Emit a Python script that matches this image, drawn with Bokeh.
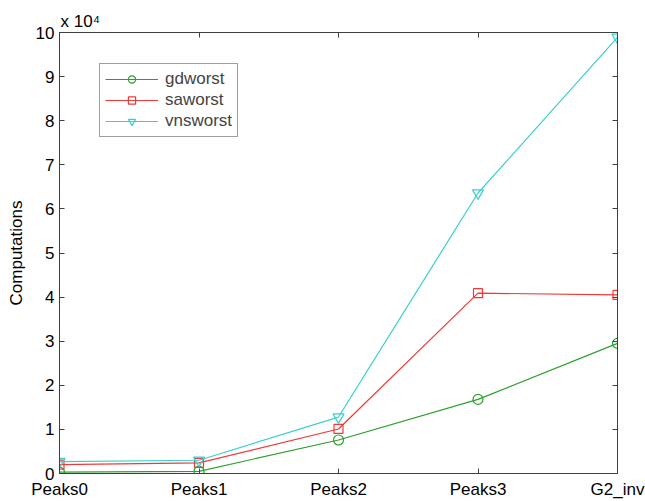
from bokeh.plotting import figure
from bokeh.models import Range1d, FixedTicker, LinearAxis, Legend
from bokeh.embed import file_html
from bokeh.resources import INLINE

# Worst-case number of computations per test function
categories = ["Peaks0", "Peaks1", "Peaks2", "Peaks3", "G2_inv"]
gdworst = [300, 500, 7600, 16800, 29500]
saworst = [2000, 2400, 10100, 40900, 40500]
vnsworst = [2700, 3000, 12800, 63600, 98900]
y_ticks = [0, 10000, 20000, 30000, 40000, 50000, 60000, 70000, 80000, 90000, 100000]
y_tick_labels = ["0", "1", "2", "3", "4", "5", "6", "7", "8", "9", "10"]

FONT = "Liberation Sans"
FS = "17px"
AX = "#404040"

xs = list(range(len(categories)))

p = figure(frame_width=558, frame_height=441,
           min_border_left=59, min_border_right=28,
           min_border_top=32, min_border_bottom=28,
           x_range=Range1d(0, len(categories) - 1),
           y_range=Range1d(0, 100000),
           output_backend="svg", toolbar_location=None,
           background_fill_color="white", border_fill_color="white")
p.grid.visible = False
p.outline_line_color = AX
p.outline_line_width = 1

# exponent note above the y axis
p.title.text = "x 10\u2074"
p.title.align = "left"
p.title.offset = 1
p.title.standoff = 3
p.title.text_font = FONT
p.title.text_font_size = FS
p.title.text_font_style = "normal"
p.title.text_color = "black"

x_ticker = FixedTicker(ticks=xs)
y_ticker = FixedTicker(ticks=y_ticks)
x_labels = {i: c for i, c in enumerate(categories)}
y_labels = {t: s for t, s in zip(y_ticks, y_tick_labels)}

def style_axis(ax, show_labels):
    ax.axis_line_color = AX
    ax.major_tick_line_color = AX
    ax.major_tick_in = 5
    ax.major_tick_out = 0
    ax.minor_tick_line_color = None
    ax.major_label_text_font = FONT
    if show_labels:
        ax.major_label_text_font_size = FS
        ax.major_label_text_color = "black"
    else:
        ax.major_label_text_font_size = "1px"
        ax.major_label_text_color = None
        ax.major_label_standoff = 0
    ax.axis_label_text_font = FONT
    ax.axis_label_text_font_size = FS
    ax.axis_label_text_font_style = "normal"
    ax.axis_label_text_color = "black"

xa = p.xaxis[0]
xa.ticker = x_ticker
xa.major_label_overrides = x_labels
xa.major_label_standoff = 6
style_axis(xa, True)

ya = p.yaxis[0]
ya.ticker = y_ticker
ya.major_label_overrides = y_labels
ya.major_label_standoff = 5
ya.axis_label = "Computations"
ya.axis_label_standoff = 7
style_axis(ya, True)

# mirrored tick marks on the top and right edges of the box
top = LinearAxis(ticker=x_ticker)
style_axis(top, False)
p.add_layout(top, "above")
right = LinearAxis(ticker=y_ticker)
style_axis(right, False)
p.add_layout(right, "right")

series = [
    ("gdworst", gdworst, "#2ca02c", "circle", 10),
    ("saworst", saworst, "#f03a3a", "square", 9),
    ("vnsworst", vnsworst, "#3ad0d0", "inverted_triangle", 11),
]
items = []
for name, vals, color, marker, size in series:
    ln = p.line(xs, vals, line_color=color, line_width=1.2)
    sc = p.scatter(xs, vals, marker=marker, size=size,
                   line_color=color, fill_color=None, line_width=1.2)
    items.append((name, [ln, sc]))

legend = Legend(items=items, location=(40, 336),
                label_text_font=FONT, label_text_font_size=FS,
                glyph_width=53, glyph_height=18, label_height=18,
                label_standoff=7, spacing=1, padding=5,
                border_line_color=AX, border_line_width=1,
                background_fill_color="white", background_fill_alpha=1)
p.add_layout(legend, "center")

open("out.html", "w").write(file_html(p, INLINE))
